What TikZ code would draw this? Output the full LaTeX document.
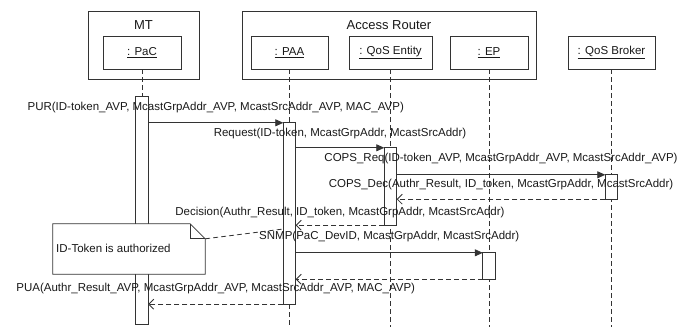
\documentclass[tikz,border=0pt]{standalone}
\usepackage{fontspec}
\setmainfont{Liberation Sans}
\usetikzlibrary{arrows.meta,calc}
\begin{document}
\begin{tikzpicture}[x=1pt,y=-1pt,
  every node/.style={font=\fontsize{11.5}{13}\selectfont, inner sep=0pt, text=black!90},
  grp/.style={draw=black!80, line width=0.8pt},
  title/.style={font=\fontsize{13}{15}\selectfont},
  obj/.style={draw=black!80, fill=white, line width=0.8pt, minimum height=33pt},
  bar/.style={minimum width=12pt},
  barbox/.style={draw=black!80, fill=white, line width=0.8pt},
  life/.style={draw=black!80, line width=0.8pt, dash pattern=on 5pt off 3pt},
  msg/.style={draw=black!80, line width=0.8pt, -{Triangle[length=8pt,width=7pt]}},
  ret/.style={draw=black!80, line width=0.8pt, dash pattern=on 5pt off 3pt, -{Straight Barb[length=5pt,width=10pt]}},
  lbl/.style={midway, anchor=base, yshift=#1},
  lbl/.default=13pt
]
\useasboundingbox (0,0) rectangle (679,327);

% group frames
\node[grp, minimum width=111pt, minimum height=68pt] (mt) at (143.5,45) {};
\node[title] (mtt) at (143.5,25) {MT};
\node[grp, minimum width=294pt, minimum height=68pt] (ar) at (389,45) {};
\node[title] (art) at (389,25) {Access Router};

% objects
\node[obj, minimum width=78pt] (pac) at (142,52.5) {\underline{: PaC}};
\node[obj, minimum width=77pt] (paa) at (289.5,52.5) {\underline{: PAA}};
\node[obj, minimum width=83pt] (qos) at (390.5,52.5) {\underline{: QoS Entity}};
\node[obj, minimum width=78pt] (ep) at (489,52.5) {\underline{: EP}};
\node[obj, minimum width=87pt] (qb) at (611.5,52.5) {\underline{: QoS Broker}};

% free ends of lifelines
\coordinate (paaend) at (289.5,327);
\coordinate (qosend) at (390.5,327);
\coordinate (epend) at (489,327);
\coordinate (qbend) at (611.5,327);
\coordinate (notehit) at (0,229);

% activation bars (positions)
\node[bar, minimum height=227pt] (pacbar) at (142,210.5) {};
\node[bar, minimum height=181pt] (paabar) at (289.5,213.5) {};
\node[bar, minimum height=77pt] (qosbar) at (390.5,186.5) {};
\node[bar, minimum height=24pt] (qbbar) at (611.5,187) {};
\node[bar, minimum height=26pt] (epbar) at (489,266) {};

% lifelines
\draw[life] (pac.south) -- (pacbar.north);
\draw[life] (paa.south) -- (paabar.north);
\draw[life] (paabar.south) -- (paaend);
\draw[life] (qos.south) -- (qosend);
\draw[life] (ep.south) -- (epend);
\draw[life] (qb.south) -- (qbend);

% bars drawn
\foreach \b in {pacbar,paabar,qosbar,qbbar,epbar}
  \draw[barbox] (\b.north west) rectangle (\b.south east);

% messages
\draw[msg] (pacbar.east |- paabar.north) -- (paabar.north west)
  node[lbl=12pt] {PUR(ID-token\_AVP, McastGrpAddr\_AVP, McastSrcAddr\_AVP, MAC\_AVP)};
\draw[msg] (paabar.east |- qosbar.north) -- (qosbar.north west)
  node[lbl=11pt] {Request(ID-token, McastGrpAddr, McastSrcAddr)};
\draw[msg] (qosbar.east |- qbbar.north) -- (qbbar.north west)
  node[lbl=13pt] {COPS\_Req(ID-token\_AVP, McastGrpAddr\_AVP, McastSrcAddr\_AVP)};
\draw[ret] (qbbar.south west) -- (qosbar.east |- qbbar.south)
  node[lbl=12pt] {COPS\_Dec(Authr\_Result, ID\_token, McastGrpAddr, McastSrcAddr)};
\draw[ret] (qosbar.south west) -- (paabar.east |- qosbar.south)
  node[lbl=10pt] {Decision(Authr\_Result, ID\_token, McastGrpAddr, McastSrcAddr)};
\draw[msg] (paabar.east |- epbar.north) -- (epbar.north west)
  node[lbl=13pt] {SNMP(PaC\_DevID, McastGrpAddr, McastSrcAddr)};
\draw[ret] (epbar.south west) -- (paabar.east |- epbar.south);
\draw[ret] (paabar.south west) -- (pacbar.east |- paabar.south)
  node[lbl=13pt] {PUA(Authr\_Result\_AVP, McastGrpAddr\_AVP, McastSrcAddr\_AVP, MAC\_AVP)};

% note
\node[minimum width=152pt, minimum height=50pt] (note) at (129,249) {};
\draw[barbox]
  (note.north west) -- ([xshift=-15pt]note.north east) -- ([yshift=-15pt]note.north east)
  -- (note.south east) -- (note.south west) -- cycle;
\draw[draw=black!80, line width=0.8pt]
  ([xshift=-15pt]note.north east) -- ([xshift=-15pt,yshift=-15pt]note.north east) -- ([yshift=-15pt]note.north east);
\node[anchor=base west] (notet) at (56,252) {ID-Token is authorized};
\draw[life] ([yshift=-15pt]note.north east) -- (paabar.west |- notehit);
\end{tikzpicture}
\end{document}
